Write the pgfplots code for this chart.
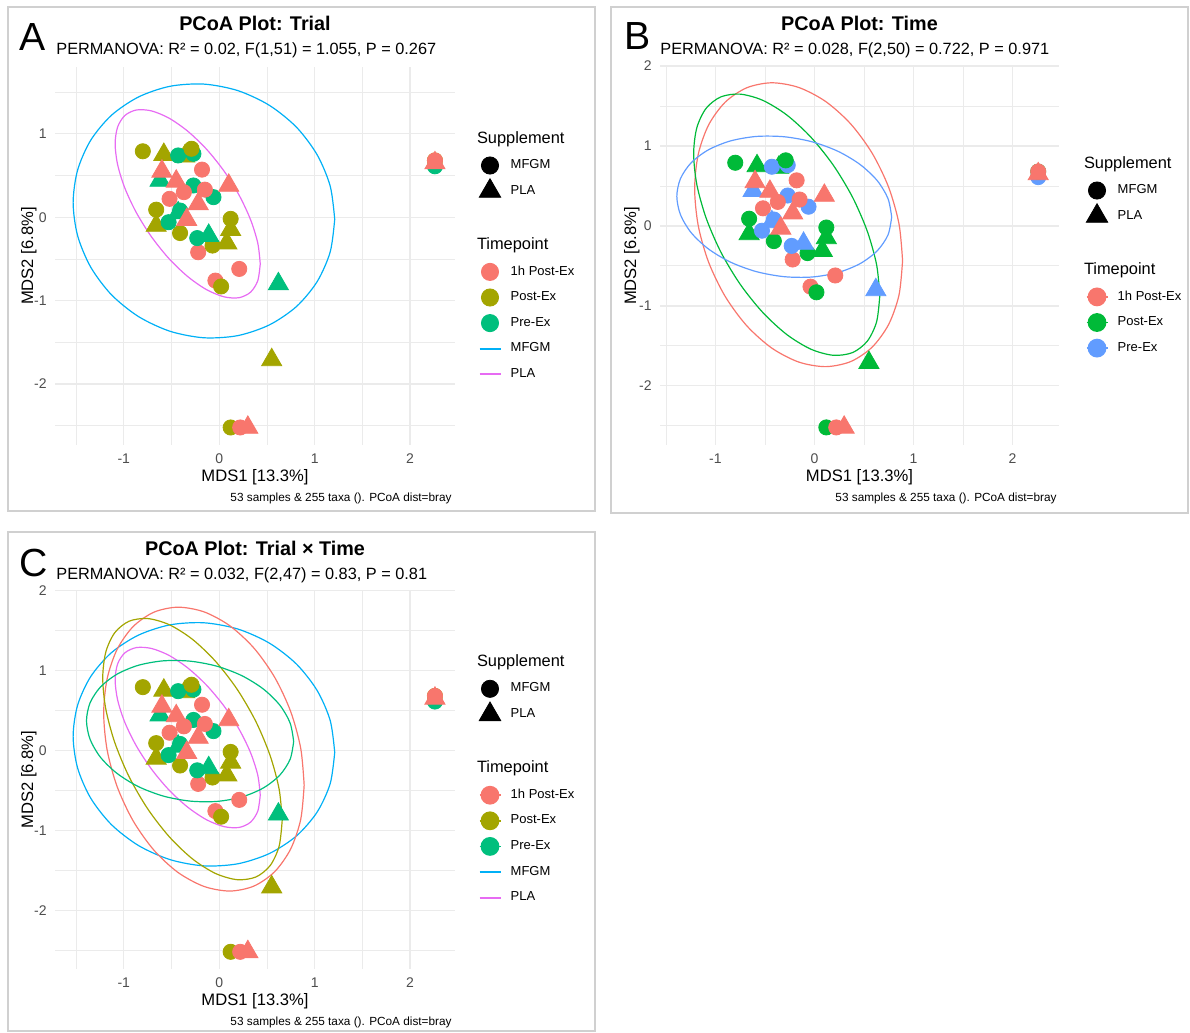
\documentclass[border=0pt]{standalone}
\usepackage{pgfplots}
\pgfplotsset{compat=1.18}
\usepackage{pgfplotstable}
\usepackage{fontspec}
\setmainfont{Liberation Sans}

\definecolor{cH}{HTML}{F8766D}
\definecolor{cP}{HTML}{A3A500}
\definecolor{cR}{HTML}{00BF7D}
\definecolor{cM}{HTML}{00B0F6}
\definecolor{cL}{HTML}{E76BF3}
\definecolor{bG}{HTML}{00BA38}
\definecolor{bB}{HTML}{619CFF}
\definecolor{gridc}{HTML}{EBEBEB}
\definecolor{tickc}{HTML}{4D4D4D}
\definecolor{framec}{HTML}{D0D0D0}

\newcommand{\fLetter}{\fontsize{19.6}{22}\selectfont}
\newcommand{\fTitle}{\fontsize{9.9}{12}\selectfont\bfseries}
\newcommand{\fSub}{\fontsize{8.15}{10}\selectfont}
\newcommand{\fAxis}{\fontsize{8.3}{10}\selectfont}
\newcommand{\fTick}{\fontsize{7}{8}\selectfont}
\newcommand{\fLegT}{\fontsize{8.2}{10}\selectfont}
\newcommand{\fLeg}{\fontsize{6.5}{8}\selectfont}
\newcommand{\fCap}{\fontsize{5.9}{7}\selectfont}
\newcommand{\legtitle}[1]{\hspace{-16.85pt}\raisebox{1.25pt}{\fLegT #1}}

\tikzset{
  legmark/.style={/pgfplots/legend image code/.code={%
     \path[draw=none,fill=none] (0pt,-6.4pt) rectangle (14pt,6.4pt);
     \draw[##1,only marks] plot coordinates {(7pt,0pt)};}},
  legline/.style={/pgfplots/legend image code/.code={%
     \path[draw=none,fill=none] (0pt,-6.4pt) rectangle (14pt,6.4pt);
     \draw[##1] (1.75pt,0pt) -- (12.25pt,0pt);}},
  leglm/.style={/pgfplots/legend image code/.code={%
     \path[draw=none,fill=none] (0pt,-6.4pt) rectangle (14pt,6.4pt);
     \draw[##1,mark=none] (1.75pt,0pt) -- (12.25pt,0pt);
     \draw[##1,only marks] plot coordinates {(7pt,0pt)};}},
  legempty/.style={/pgfplots/legend image code/.code={%
     \path[draw=none,fill=none] (0pt,-6.4pt) rectangle (14pt,6.4pt);}},
  legspace/.style={/pgfplots/legend image code/.code={%
     \path[draw=none,fill=none] (0pt,-7.4pt) rectangle (14pt,7.4pt);}},
}

\pgfplotsset{
  panel/.style={scale only axis, anchor=south west,
    axis line style={draw=none}, major tick length=0pt, minor tick length=0pt,
    xtick={-1,0,1,2}, xticklabels={-1,0,1,2},
    minor xtick={-1.5,-0.5,0.5,1.5}, minor ytick={-2.5,-1.5,-0.5,0.5,1.5},
    grid=both,
    major grid style={gridc, line width=0.65pt},
    minor grid style={gridc, line width=0.4pt},
    xticklabel style={font=\fTick, text=tickc, anchor=base, yshift=-9pt, inner sep=0pt},
    yticklabel style={font=\fTick, text=tickc, anchor=east, xshift=-4pt, inner sep=0pt},
    legend cell align=left,
    legend style={draw=none, fill=none, inner sep=0pt, outer sep=0pt,
      row sep=0pt, column sep=3.35pt, font=\fLeg, nodes={inner sep=0pt},
      anchor=north west}},
  classA/.style={scatter/classes={
     hc={mark=*, mark size=3.8pt, cH}, ht={mark=triangle*, mark size=5.8pt, cH},
     pc={mark=*, mark size=3.8pt, cP}, pt={mark=triangle*, mark size=5.8pt, cP},
     rc={mark=*, mark size=3.8pt, cR}, rt={mark=triangle*, mark size=5.8pt, cR}}},
  classB/.style={scatter/classes={
     hc={mark=*, mark size=3.8pt, cH}, ht={mark=triangle*, mark size=5.8pt, cH},
     pc={mark=*, mark size=3.8pt, bG}, pt={mark=triangle*, mark size=5.8pt, bG},
     rc={mark=*, mark size=3.8pt, bB}, rt={mark=triangle*, mark size=5.8pt, bB}}},
  ell/.style={line width=0.6pt, smooth, mark=none, forget plot},
  pts/.style={scatter, only marks, scatter src=explicit symbolic, forget plot},
}

\pgfplotstableread{
x y c
-0.80 0.79 pc
-0.58 0.75 pt
-0.36 0.73 pt
-0.43 0.74 rc
-0.27 0.76 rc
-0.29 0.82 pc
-0.62 0.44 rt
-0.60 0.55 ht
-0.18 0.57 hc
-0.45 0.43 ht
-0.27 0.38 rc
-0.06 0.24 rc
-0.15 0.33 hc
-0.37 0.30 hc
0.10 0.38 ht
-0.52 0.22 hc
-0.22 0.16 ht
-0.66 0.09 pc
-0.66 -0.10 pt
-0.43 0.05 rt
-0.41 0.08 rc
-0.41 -0.19 pc
-0.53 -0.06 rc
-0.34 -0.03 ht
0.12 -0.02 pc
0.12 -0.15 pt
-0.22 -0.42 hc
-0.07 -0.34 pc
-0.23 -0.25 rc
-0.11 -0.22 rt
0.08 -0.31 pt
0.21 -0.62 hc
-0.04 -0.76 hc
0.02 -0.83 pc
0.62 -0.80 rt
0.55 -1.71 pt
0.12 -2.52 pc
0.22 -2.52 hc
0.30 -2.52 ht
2.26 0.61 rc
2.26 0.68 pc
2.26 0.68 hc
2.26 0.65 ht
}\pts

\pgfplotstableread{
x y
1.210 -0.025
1.163 0.372
1.026 0.748
0.809 1.079
0.525 1.341
0.195 1.517
-0.160 1.595
-0.515 1.569
-0.845 1.441
-1.129 1.221
-1.346 0.922
-1.483 0.565
-1.530 0.175
-1.483 -0.222
-1.346 -0.598
-1.129 -0.929
-0.845 -1.191
-0.515 -1.367
-0.160 -1.445
0.195 -1.419
0.525 -1.291
0.809 -1.071
1.026 -0.772
1.163 -0.415
1.210 -0.025
}\elM

\pgfplotstableread{
x y
0.430 -0.560
0.404 -0.310
0.328 -0.028
0.207 0.267
0.050 0.554
-0.133 0.815
-0.330 1.031
-0.527 1.188
-0.710 1.274
-0.867 1.285
-0.988 1.219
-1.064 1.081
-1.090 0.880
-1.064 0.630
-0.988 0.348
-0.867 0.053
-0.710 -0.234
-0.527 -0.495
-0.330 -0.711
-0.133 -0.868
0.050 -0.954
0.207 -0.965
0.328 -0.899
0.404 -0.761
0.430 -0.560
}\elL

\pgfplotstableread{
x y
0.890 -0.435
0.854 0.025
0.749 0.484
0.582 0.911
0.365 1.277
0.112 1.557
-0.160 1.732
-0.432 1.790
-0.685 1.727
-0.902 1.547
-1.069 1.263
-1.174 0.894
-1.210 0.465
-1.174 0.005
-1.069 -0.454
-0.902 -0.881
-0.685 -1.247
-0.432 -1.527
-0.160 -1.702
0.112 -1.760
0.365 -1.697
0.582 -1.517
0.749 -1.233
0.854 -0.864
0.890 -0.435
}\elH

\pgfplotstableread{
x y
0.660 -0.873
0.628 -0.487
0.534 -0.068
0.385 0.358
0.190 0.760
-0.037 1.111
-0.280 1.388
-0.523 1.571
-0.750 1.648
-0.945 1.614
-1.094 1.471
-1.188 1.228
-1.220 0.903
-1.188 0.517
-1.094 0.098
-0.945 -0.328
-0.750 -0.730
-0.523 -1.081
-0.280 -1.358
-0.037 -1.541
0.190 -1.618
0.385 -1.584
0.534 -1.441
0.628 -1.198
0.660 -0.873
}\elP

\pgfplotstableread{
x y
0.780 0.110
0.743 0.341
0.635 0.565
0.462 0.767
0.238 0.933
-0.024 1.052
-0.305 1.115
-0.586 1.119
-0.848 1.063
-1.072 0.951
-1.245 0.790
-1.353 0.592
-1.390 0.370
-1.353 0.139
-1.245 -0.085
-1.072 -0.287
-0.848 -0.453
-0.586 -0.572
-0.305 -0.635
-0.024 -0.639
0.238 -0.583
0.462 -0.471
0.635 -0.310
0.743 -0.112
0.780 0.110
}\elR

\begin{document}
\begin{tikzpicture}

% ---------------- Panel A ----------------
\begin{axis}[panel, at={(27.5pt,-222.5pt)}, width=200pt, height=189pt,
  xmin=-1.72, xmax=2.47, ymin=-2.73, ymax=1.80,
  ytick={-2,-1,0,1}, yticklabels={-2,-1,0,1},
  legend style={at={(axis description cs:1.0525,0.841)}}]
\addplot[pts, classA] table[x=x, y=y, meta=c] {\pts};
\addplot[ell, cM] table {\elM};
\addplot[ell, cL] table {\elL};
\addlegendimage{legempty}\addlegendentry{\legtitle{Supplement}}
\addlegendimage{black, mark=*, mark size=4.3pt, legmark}\addlegendentry{MFGM}
\addlegendimage{black, mark=triangle*, mark size=6.2pt, legmark}\addlegendentry{PLA}
\addlegendimage{legspace}\addlegendentry{}
\addlegendimage{legempty}\addlegendentry{\legtitle{Timepoint}}
\addlegendimage{cH, mark=*, mark size=4.3pt, legmark}\addlegendentry{1h Post-Ex}
\addlegendimage{cP, mark=*, mark size=4.3pt, legmark}\addlegendentry{Post-Ex}
\addlegendimage{cR, mark=*, mark size=4.3pt, legmark}\addlegendentry{Pre-Ex}
\addlegendimage{cM, line width=1pt, legline}\addlegendentry{MFGM}
\addlegendimage{cL, line width=1pt, legline}\addlegendentry{PLA}
\end{axis}

% ---------------- Panel B ----------------
\begin{axis}[panel, at={(330pt,-222.5pt)}, width=199.5pt, height=189.5pt,
  xmin=-1.56, xmax=2.47, ymin=-2.74, ymax=2.0,
  ytick={-2,-1,0,1,2}, yticklabels={-2,-1,0,1,2},
  legend style={at={(axis description cs:1.0602,0.7728)}}]
\addplot[pts, classB] table[x=x, y=y, meta=c] {\pts};
\addplot[ell, cH] table {\elH};
\addplot[ell, bG] table {\elP};
\addplot[ell, bB] table {\elR};
\addlegendimage{legempty}\addlegendentry{\legtitle{Supplement}}
\addlegendimage{black, mark=*, mark size=4.3pt, legmark}\addlegendentry{MFGM}
\addlegendimage{black, mark=triangle*, mark size=6.2pt, legmark}\addlegendentry{PLA}
\addlegendimage{legspace}\addlegendentry{}
\addlegendimage{legempty}\addlegendentry{\legtitle{Timepoint}}
\addlegendimage{cH, mark=*, mark size=4.3pt, line width=0.8pt, leglm}\addlegendentry{1h Post-Ex}
\addlegendimage{bG, mark=*, mark size=4.3pt, line width=0.8pt, leglm}\addlegendentry{Post-Ex}
\addlegendimage{bB, mark=*, mark size=4.3pt, line width=0.8pt, leglm}\addlegendentry{Pre-Ex}
\end{axis}

% ---------------- Panel C ----------------
\begin{axis}[panel, at={(27.5pt,-484.5pt)}, width=200pt, height=189.5pt,
  xmin=-1.72, xmax=2.47, ymin=-2.735, ymax=2.005,
  ytick={-2,-1,0,1,2}, yticklabels={-2,-1,0,1,2},
  legend style={at={(axis description cs:1.0525,0.8406)}}]
\addplot[pts, classA] table[x=x, y=y, meta=c] {\pts};
\addplot[ell, cM] table {\elM};
\addplot[ell, cL] table {\elL};
\addplot[ell, cH] table {\elH};
\addplot[ell, cP] table {\elP};
\addplot[ell, cR] table {\elR};
\addlegendimage{legempty}\addlegendentry{\legtitle{Supplement}}
\addlegendimage{black, mark=*, mark size=4.3pt, legmark}\addlegendentry{MFGM}
\addlegendimage{black, mark=triangle*, mark size=6.2pt, legmark}\addlegendentry{PLA}
\addlegendimage{legspace}\addlegendentry{}
\addlegendimage{legempty}\addlegendentry{\legtitle{Timepoint}}
\addlegendimage{cH, mark=*, mark size=4.3pt, line width=0.8pt, leglm}\addlegendentry{1h Post-Ex}
\addlegendimage{cP, mark=*, mark size=4.3pt, line width=0.8pt, leglm}\addlegendentry{Post-Ex}
\addlegendimage{cR, mark=*, mark size=4.3pt, line width=0.8pt, leglm}\addlegendentry{Pre-Ex}
\addlegendimage{cM, line width=1pt, legline}\addlegendentry{MFGM}
\addlegendimage{cL, line width=1pt, legline}\addlegendentry{PLA}
\end{axis}

% ---------------- annotations (pixel coordinates) ----------------
\begin{scope}[x=0.5pt, y=-0.5pt]
\draw[framec, line width=0.8pt] (8,7) rectangle (595,511);
\draw[framec, line width=0.8pt] (611,7) rectangle (1188,513);
\draw[framec, line width=0.8pt] (8,532) rectangle (595,1031);

% A
\node[anchor=base west, inner sep=0pt, font=\fLetter] at (19,50) {A};
\node[anchor=base, inner sep=0pt, font=\fTitle] at (255,30.7) {PCoA Plot: Trial};
\node[anchor=base west, inner sep=0pt, font=\fSub] at (56,54.3) {PERMANOVA: R² = 0.02, F(1,51) = 1.055, P = 0.267};
\node[anchor=base, inner sep=0pt, font=\fAxis] at (255,481.7) {MDS1 [13.3\%]};
\node[anchor=base, inner sep=0pt, font=\fAxis, rotate=90] at (33,256) {MDS2 [6.8\%]};
\node[anchor=base east, inner sep=0pt, font=\fCap] at (452,501.7) {53 samples \& 255 taxa (). PCoA dist=bray};

% B
\node[anchor=base west, inner sep=0pt, font=\fLetter] at (624,49) {B};
\node[anchor=base, inner sep=0pt, font=\fTitle] at (859.5,30.7) {PCoA Plot: Time};
\node[anchor=base west, inner sep=0pt, font=\fSub] at (660,54.3) {PERMANOVA: R² = 0.028, F(2,50) = 0.722, P = 0.971};
\node[anchor=base, inner sep=0pt, font=\fAxis] at (859.5,481.7) {MDS1 [13.3\%]};
\node[anchor=base, inner sep=0pt, font=\fAxis, rotate=90] at (636,256) {MDS2 [6.8\%]};
\node[anchor=base east, inner sep=0pt, font=\fCap] at (1057,501.7) {53 samples \& 255 taxa (). PCoA dist=bray};

% C
\node[anchor=base west, inner sep=0pt, font=\fLetter] at (19,576.7) {C};
\node[anchor=base, inner sep=0pt, font=\fTitle] at (255,555) {PCoA Plot: Trial × Time};
\node[anchor=base west, inner sep=0pt, font=\fSub] at (56,579.3) {PERMANOVA: R² = 0.032, F(2,47) = 0.83, P = 0.81};
\node[anchor=base, inner sep=0pt, font=\fAxis] at (255,1005) {MDS1 [13.3\%]};
\node[anchor=base, inner sep=0pt, font=\fAxis, rotate=90] at (33,779.5) {MDS2 [6.8\%]};
\node[anchor=base east, inner sep=0pt, font=\fCap] at (452,1025.7) {53 samples \& 255 taxa (). PCoA dist=bray};

\pgfresetboundingbox
\path[use as bounding box] (0,0) rectangle (1190,1033);
\end{scope}
\end{tikzpicture}
\end{document}
